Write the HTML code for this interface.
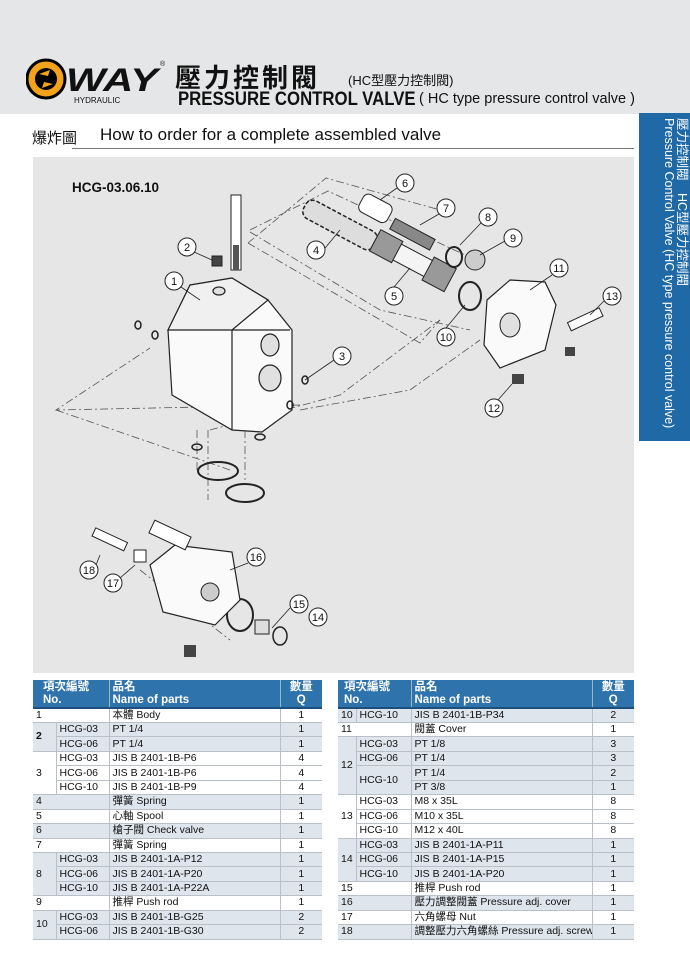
<!DOCTYPE html>
<html><head><meta charset="utf-8">
<style>
*{margin:0;padding:0;box-sizing:border-box}
body{width:690px;height:977px;background:#fff;position:relative;overflow:hidden;font-family:"Liberation Sans","Noto Sans CJK TC",sans-serif;color:#111}
.hdr{position:absolute;left:0;top:0;width:690px;height:114px;background:#e5e6e8}
.abs{position:absolute;white-space:nowrap}
table{position:absolute;border-collapse:collapse;font-size:10.5px;table-layout:fixed}
td,th{height:14.45px;padding:0 3px;border-bottom:1px solid #b9c0c8;line-height:13px;overflow:hidden;white-space:nowrap}
th{background:#2f73ad;color:#fff;font-weight:bold;text-align:left;font-size:11.5px;line-height:13px;border-bottom:2px solid #1d4f7c;padding-top:1px}
th.c{text-align:center}
td.q{text-align:center}
tr.g td{background:#dfe5ec}
td.bl{border-left:1px solid #b9c0c8}
td.br{border-right:1px solid #b9c0c8}
td.n{vertical-align:middle}
</style></head><body>
<div class="hdr"></div>
<svg class="abs" style="left:26px;top:54px" width="140" height="54" viewBox="0 0 140 54">
<circle cx="20" cy="25" r="19" fill="#f3a21a" stroke="#000" stroke-width="3"/>
<circle cx="20" cy="25" r="11" fill="#000"/>
<path d="M13 20 L24 16 L22 22 Z M27 30 L16 34 L18 28 Z" fill="#f3a21a"/>
<text x="40" y="37" font-family="Liberation Sans" font-weight="bold" font-style="italic" font-size="32" fill="#111" textLength="92" lengthAdjust="spacingAndGlyphs">WAY</text>
<text x="48" y="49" font-family="Liberation Sans" font-size="8" fill="#111">HYDRAULIC</text>
<text x="134" y="12" font-size="7" fill="#111">®</text>
</svg>
<div class="abs" style="left:175px;top:58px;font-size:26px;font-weight:bold;letter-spacing:3px">壓力控制閥</div>
<div class="abs" style="left:348px;top:70px;font-size:13px">(HC型壓力控制閥)</div>
<div class="abs" style="left:178px;top:88px;font-size:19.5px;font-weight:bold;transform:scaleX(0.86);transform-origin:left">PRESSURE CONTROL VALVE</div>
<div class="abs" style="left:419px;top:91px;font-size:14.5px">( HC type pressure control valve )</div>
<div class="abs" style="left:32px;top:127px;font-size:15px">爆炸圖</div>
<div class="abs" style="left:100px;top:125px;font-size:17px">How to order for a complete assembled valve</div>
<div class="abs" style="left:72px;top:148px;width:562px;height:1px;background:#777"></div>
<div class="abs" style="left:639px;top:113px;width:51px;height:328px;background:#1f69a6"></div>
<div class="abs" style="left:688px;top:118px;transform:rotate(90deg);transform-origin:left top;color:#fff;font-size:12.5px;line-height:13px;width:320px;white-space:normal">壓力控制閥　HC型壓力控制閥<br>Pressure Control Valve (HC type pressure control valve)</div>
<svg class="abs" style="left:33px;top:157px" width="601" height="516" viewBox="33 157 601 516">
<rect x="33" y="157" width="601" height="516" fill="#e6e6e6"/>
<text x="72" y="192" font-family="Liberation Sans" font-weight="bold" font-size="13.5" fill="#111">HCG-03.06.10</text>
<g fill="none" stroke="#555" stroke-width="0.8" stroke-dasharray="8 3 2 3">
<path d="M248 243 L326 178 L440 210 M248 243 L420 343 L440 320"/>
<path d="M250 232 L380 310 L470 330"/>
<path d="M250 230 L328 191 L480 262"/>
<path d="M300 405 L56 410 L150 348"/>
<path d="M56 410 L230 470"/>
<path d="M210 430 L340 395 L440 320"/>
<path d="M300 410 L410 390 L480 340"/>
<path d="M197 430 L197 470 M208 430 L208 500 M245 430 L245 480"/>
<path d="M140 570 L230 640"/>
</g>
<g stroke="#222" stroke-width="1.2" fill="#fafafa">
<path d="M168 330 L190 285 L232 278 L268 300 L292 330 L292 410 L262 432 L232 430 L172 395 Z"/>
<path d="M232 330 L290 330 M232 330 L232 430" fill="none"/>
<path d="M190 285 L232 278 L268 300 L232 330 L168 330 Z" fill="#f0f0f0"/>
<ellipse cx="270" cy="345" rx="9" ry="11" fill="#e0e0e0"/>
<ellipse cx="270" cy="378" rx="11" ry="13" fill="#e0e0e0"/>
<ellipse cx="219" cy="291" rx="6" ry="4" fill="#e0e0e0"/>
</g>
<rect x="231" y="195" width="10" height="75" fill="#fff" stroke="#222"/>
<rect x="233" y="245" width="6" height="25" fill="#555"/>
<rect x="212" y="256" width="10" height="10" fill="#444" stroke="#222"/>
<g transform="rotate(28 340 225)"><rect x="300" y="215" width="80" height="20" rx="8" fill="#ddd" stroke="#222" stroke-width="1.5" stroke-dasharray="4 2"/></g>
<g transform="rotate(28 375 207)"><rect x="360" y="198" width="32" height="20" rx="6" fill="#fff" stroke="#222"/></g>
<g transform="rotate(28 412 234)"><rect x="390" y="228" width="45" height="12" fill="#888" stroke="#222"/></g>
<g transform="rotate(28 410 260)"><rect x="370" y="250" width="80" height="18" fill="#f4f4f4" stroke="#222"/><rect x="370" y="247" width="25" height="24" fill="#999" stroke="#222"/><rect x="430" y="246" width="25" height="26" fill="#999" stroke="#222"/></g>
<ellipse cx="454" cy="257" rx="8" ry="10" fill="none" stroke="#222" stroke-width="2"/>
<ellipse cx="475" cy="260" rx="10" ry="10" fill="#ccc" stroke="#222"/>
<ellipse cx="470" cy="296" rx="11" ry="14" fill="none" stroke="#222" stroke-width="2"/>
<path d="M487 300 L510 280 L545 282 L556 305 L545 350 L500 368 L484 345 Z" fill="#fafafa" stroke="#222" stroke-width="1.2"/>
<ellipse cx="510" cy="325" rx="10" ry="12" fill="#e0e0e0" stroke="#222"/>
<g transform="rotate(-25 585 320)"><rect x="568" y="315" width="35" height="9" fill="#fff" stroke="#222"/></g>
<rect x="565" y="347" width="10" height="9" fill="#444"/>
<rect x="512" y="374" width="12" height="10" fill="#444"/>
<g fill="none" stroke="#222" stroke-width="1.5">
<ellipse cx="138" cy="325" rx="3" ry="4"/><ellipse cx="155" cy="335" rx="3" ry="4"/>
<ellipse cx="305" cy="380" rx="3" ry="4"/><ellipse cx="290" cy="405" rx="3" ry="4"/>
<ellipse cx="197" cy="447" rx="5" ry="3"/><ellipse cx="260" cy="437" rx="5" ry="3"/>
<ellipse cx="218" cy="471" rx="20" ry="9" stroke-width="2"/><ellipse cx="245" cy="493" rx="19" ry="9" stroke-width="2"/>
<ellipse cx="240" cy="615" rx="13" ry="16" stroke-width="2"/><ellipse cx="280" cy="636" rx="7" ry="9"/>
</g>
<path d="M150 565 L175 545 L232 552 L240 600 L215 625 L163 612 Z" fill="#fafafa" stroke="#222" stroke-width="1.2"/>
<circle cx="210" cy="592" r="9" fill="#ccc" stroke="#222"/>
<g transform="rotate(25 170 535)"><rect x="150" y="528" width="40" height="14" fill="#fff" stroke="#222"/></g>
<g transform="rotate(25 110 540)"><rect x="92" y="535" width="35" height="9" fill="#fff" stroke="#222"/></g>
<rect x="134" y="550" width="12" height="12" fill="#fff" stroke="#222"/>
<rect x="255" y="620" width="14" height="14" fill="#ddd" stroke="#222"/>
<rect x="184" y="645" width="12" height="12" fill="#444"/>
<g stroke="#222" stroke-width="0.8">
<path d="M181 287 L200 300 M194 252 L212 260 M334 360 L305 380 M316 259 L340 230 M394 287 L410 268 M397 188 L380 200 M439 214 L420 225 M481 223 L460 245 M505 241 L480 255 M446 328 L465 305 M552 275 L530 290 M605 300 L590 315 M498 400 L512 384 M248 563 L230 570 M290 608 L272 628 M120 578 L135 565 M96 565 L100 555"/>
</g>
<g font-family="Liberation Sans" font-size="11" text-anchor="middle" fill="#111">
<g fill="#fff" stroke="#222" stroke-width="1">
<circle cx="174" cy="281" r="9"/><circle cx="187" cy="247" r="9"/><circle cx="342" cy="356" r="9"/><circle cx="316" cy="250" r="9"/><circle cx="394" cy="296" r="9"/><circle cx="405" cy="183" r="9"/><circle cx="446" cy="208" r="9"/><circle cx="488" cy="217" r="9"/><circle cx="513" cy="238" r="9"/><circle cx="446" cy="337" r="9"/><circle cx="559" cy="268" r="9"/><circle cx="494" cy="408" r="9"/><circle cx="612" cy="296" r="9"/><circle cx="318" cy="617" r="9"/><circle cx="299" cy="604" r="9"/><circle cx="256" cy="557" r="9"/><circle cx="113" cy="583" r="9"/><circle cx="89" cy="570" r="9"/>
</g>
<text x="174" y="285">1</text><text x="187" y="251">2</text><text x="342" y="360">3</text><text x="316" y="254">4</text><text x="394" y="300">5</text><text x="405" y="187">6</text><text x="446" y="212">7</text><text x="488" y="221">8</text><text x="513" y="242">9</text><text x="446" y="341">10</text><text x="559" y="272">11</text><text x="494" y="412">12</text><text x="612" y="300">13</text><text x="318" y="621">14</text><text x="299" y="608">15</text><text x="256" y="561">16</text><text x="113" y="587">17</text><text x="89" y="574">18</text>
</g>
</svg>
<table style="left:33px;top:680px;width:289px">
<colgroup><col style="width:23px"><col style="width:53px"><col style="width:171px"><col style="width:42px"></colgroup>
<tr><th colspan="2" style="height:28px;padding-left:10px">項次編號<br>No.</th><th style="border-left:1px solid #9bb;">品名<br>Name of parts</th><th class="c" style="border-left:1px solid #9bb;">數量<br>Q</th></tr>
<tr><td colspan="2">1</td><td class="bl">本體 Body</td><td class="q bl">1</td></tr>
<tr class="g"><td rowspan="2" class="n br"><b>2</b></td><td>HCG-03</td><td class="bl">PT 1/4</td><td class="q bl">1</td></tr>
<tr class="g"><td>HCG-06</td><td class="bl">PT 1/4</td><td class="q bl">1</td></tr>
<tr><td rowspan="3" class="n br">3</td><td>HCG-03</td><td class="bl">JIS B 2401-1B-P6</td><td class="q bl">4</td></tr>
<tr><td>HCG-06</td><td class="bl">JIS B 2401-1B-P6</td><td class="q bl">4</td></tr>
<tr><td>HCG-10</td><td class="bl">JIS B 2401-1B-P9</td><td class="q bl">4</td></tr>
<tr class="g"><td colspan="2">4</td><td class="bl">彈簧 Spring</td><td class="q bl">1</td></tr>
<tr><td colspan="2">5</td><td class="bl">心軸 Spool</td><td class="q bl">1</td></tr>
<tr class="g"><td colspan="2">6</td><td class="bl">槍子閥 Check valve</td><td class="q bl">1</td></tr>
<tr><td colspan="2">7</td><td class="bl">彈簧 Spring</td><td class="q bl">1</td></tr>
<tr class="g"><td rowspan="3" class="n br">8</td><td>HCG-03</td><td class="bl">JIS B 2401-1A-P12</td><td class="q bl">1</td></tr>
<tr class="g"><td>HCG-06</td><td class="bl">JIS B 2401-1A-P20</td><td class="q bl">1</td></tr>
<tr class="g"><td>HCG-10</td><td class="bl">JIS B 2401-1A-P22A</td><td class="q bl">1</td></tr>
<tr><td colspan="2">9</td><td class="bl">推桿 Push rod</td><td class="q bl">1</td></tr>
<tr class="g"><td rowspan="2" class="n br">10</td><td>HCG-03</td><td class="bl">JIS B 2401-1B-G25</td><td class="q bl">2</td></tr>
<tr class="g"><td>HCG-06</td><td class="bl">JIS B 2401-1B-G30</td><td class="q bl">2</td></tr>
</table>
<table style="left:338px;top:680px;width:296px">
<colgroup><col style="width:18px"><col style="width:55px"><col style="width:181px"><col style="width:42px"></colgroup>
<tr><th colspan="2" style="height:28px;padding-left:6px">項次編號<br>No.</th><th style="border-left:1px solid #9bb;">品名<br>Name of parts</th><th class="c" style="border-left:1px solid #9bb;">數量<br>Q</th></tr>
<tr class="g"><td class="br">10</td><td>HCG-10</td><td class="bl">JIS B 2401-1B-P34</td><td class="q bl">2</td></tr>
<tr><td colspan="2">11</td><td class="bl">閥蓋 Cover</td><td class="q bl">1</td></tr>
<tr class="g"><td rowspan="4" class="n br">12</td><td>HCG-03</td><td class="bl">PT 1/8</td><td class="q bl">3</td></tr>
<tr class="g"><td>HCG-06</td><td class="bl">PT 1/4</td><td class="q bl">3</td></tr>
<tr class="g"><td rowspan="2" class="n">HCG-10</td><td class="bl">PT 1/4</td><td class="q bl">2</td></tr>
<tr class="g"><td class="bl">PT 3/8</td><td class="q bl">1</td></tr>
<tr><td rowspan="3" class="n br">13</td><td>HCG-03</td><td class="bl">M8 x 35L</td><td class="q bl">8</td></tr>
<tr><td>HCG-06</td><td class="bl">M10 x 35L</td><td class="q bl">8</td></tr>
<tr><td>HCG-10</td><td class="bl">M12 x 40L</td><td class="q bl">8</td></tr>
<tr class="g"><td rowspan="3" class="n br">14</td><td>HCG-03</td><td class="bl">JIS B 2401-1A-P11</td><td class="q bl">1</td></tr>
<tr class="g"><td>HCG-06</td><td class="bl">JIS B 2401-1A-P15</td><td class="q bl">1</td></tr>
<tr class="g"><td>HCG-10</td><td class="bl">JIS B 2401-1A-P20</td><td class="q bl">1</td></tr>
<tr><td colspan="2">15</td><td class="bl">推桿 Push rod</td><td class="q bl">1</td></tr>
<tr class="g"><td colspan="2">16</td><td class="bl">壓力調整閥蓋 Pressure adj. cover</td><td class="q bl">1</td></tr>
<tr><td colspan="2">17</td><td class="bl">六角螺母 Nut</td><td class="q bl">1</td></tr>
<tr class="g"><td colspan="2">18</td><td class="bl">調整壓力六角螺絲 Pressure adj. screw</td><td class="q bl">1</td></tr>
</table>
</body></html>
